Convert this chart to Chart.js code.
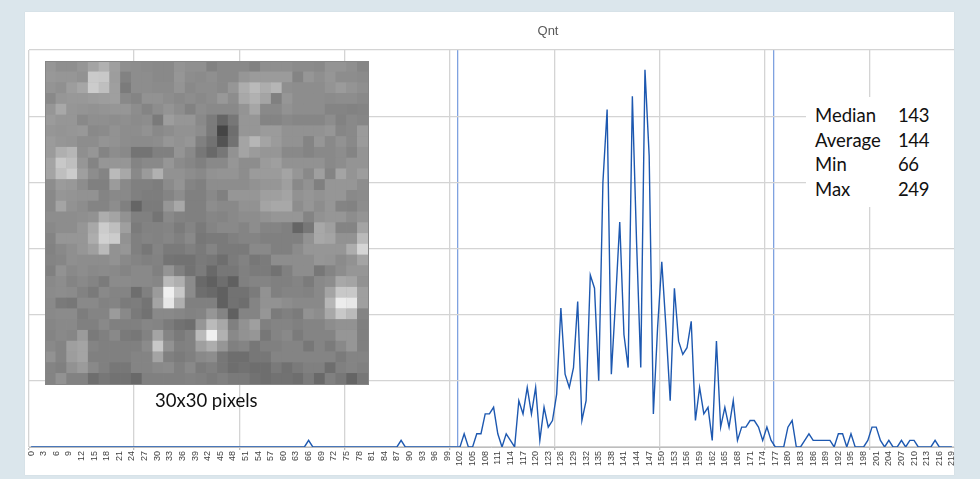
<!DOCTYPE html>
<html>
<head>
<meta charset="utf-8">
<title>Qnt</title>
<script src="https://cdn.jsdelivr.net/npm/chart.js@4"></script>
<style>
    html, body { margin: 0; padding: 0; width: 980px; height: 479px; overflow: hidden; background: #dbe6ec; }
    #panel { position: absolute; left: 25px; top: 12px; width: 929px; height: 463px; background: #fff; box-shadow: 0 0 1px #c4cdd2; }
    #histogram { position: absolute; left: 0; top: 0; }
    #inset { position: absolute; left: 45px; top: 61px; background: #8c8c8c; filter: blur(0.7px) contrast(0.88) brightness(1.02); }
    #insetBorder { position: absolute; left: 45px; top: 61px; width: 322px; height: 322px; border: 1px solid #868686; }
    .txt { position: absolute; font-family: Lato, "Open Sans", sans-serif; color: #111; font-size: 18.5px; line-height: 24.5px; white-space: nowrap; }
    #title { position: absolute; left: 498px; width: 100px; top: 23px; text-align: center; font: 13px "Liberation Sans", sans-serif; color: #595959; }
    #statsBox { position: absolute; left: 806px; top: 97px; width: 148px; height: 110px; background: #fff; }
</style>
</head>
<body>
<div id="panel"></div>
<canvas id="histogram" width="980" height="479"></canvas>
<div id="title">Qnt</div>
<canvas id="inset" width="323" height="323"></canvas>
<div id="insetBorder"></div>
<div class="txt" style="left:155px;top:388px">30x30 pixels</div>
<div id="statsBox"></div>

<script>
// Histogram of grey levels, one count per level from 0 to 219
const counts = [
    0,0,0,0,0,0,0,0,0,0, 0,0,0,0,0,0,0,0,0,0,
    0,0,0,0,0,0,0,0,0,0, 0,0,0,0,0,0,0,0,0,0,
    0,0,0,0,0,0,0,0,0,0, 0,0,0,0,0,0,0,0,0,0,
    0,0,0,0,0,0,1,0,0,0, 0,0,0,0,0,0,0,0,0,0,
    0,0,0,0,0,0,0,0,1,0, 0,0,0,0,0,0,0,0,0,0,
    0,0,0,2,0,0,2,2,5,5, 6,2,0,2,1,0,7,5,9,5,
    9,1,6,3,4,8,21,11,9,12, 22,4,7,26,24,10,40,51,11,22,
    34,17,12,53,31,12,57,44,5,18, 28,18,7,24,16,14,15,19,4,9,
    5,6,1,16,3,6,3,7,1,3, 3,4,4,3,1,3,1,0,0,0,
    3,4,0,0,1,2,1,1,1,1, 1,0,2,2,0,2,0,0,0,1,
    3,3,1,0,1,0,0,1,0,1, 1,0,0,0,0,1,0,0,0,0
];
const levels = counts.map((c, i) => String(i));

// Levels where the two blue marker lines sit
const markerLevels = [102, 177];

// Stats shown on the right
const statNames = ['Median', 'Average', 'Min', 'Max'];
const statValues = ['143', '144', '66', '249'];

// The 30x30 sample, grey value per cell, read row by row
const insetRows = [
    [150,142,142,150,165,180,160,142,140,137,135,135,148,143,143, 128,135,135,135,128,142,142,142,138,138,135,148,148,142,132],
    [152,150,150,145,208,205,158,128,140,140,135,135,150,140,138, 142,135,135,150,155,155,155,155,130,150,142,150,140,140,138],
    [147,143,158,168,210,195,160,120,140,140,138,138,148,135,140, 140,135,150,175,190,175,185,142,140,140,140,148,155,148,142],
    [135,150,152,152,155,158,160,135,130,145,145,140,135,140,135, 140,152,140,170,180,165,125,150,140,140,140,138,140,140,135],
    [150,170,150,148,145,148,150,150,140,130,140,148,140,128,140, 135,135,135,148,168,135,135,145,140,140,140,130,130,128,130],
    [155,150,150,135,142,142,140,142,138,140,118,158,150,150,135, 120,95,115,150,150,130,130,135,132,132,132,140,128,135,132],
    [150,148,150,152,135,138,145,140,140,145,135,140,145,145,140, 118,60,105,150,150,155,155,145,145,145,145,150,132,135,155],
    [155,150,148,140,140,148,145,140,138,138,140,150,145,150,125, 110,75,110,165,185,165,155,145,145,130,150,135,145,135,155],
    [155,178,185,142,150,130,140,135,112,112,125,125,148,135,115, 100,115,145,165,155,150,150,135,135,130,135,135,140,130,148],
    [165,205,195,150,130,150,150,150,130,135,135,150,138,132,125, 135,135,150,140,140,155,160,145,145,145,145,135,140,148,148],
    [165,195,210,160,140,130,190,170,135,155,180,145,145,140,135, 145,148,148,140,155,155,155,165,150,135,160,130,165,148,158],
    [140,155,152,140,125,125,155,135,125,125,122,138,148,130,125, 140,140,140,140,145,150,150,160,135,145,125,150,150,150,140],
    [135,150,148,145,145,130,135,135,125,122,122,130,140,125,125, 135,125,150,150,150,160,160,165,145,150,145,150,150,135,138],
    [135,165,145,140,130,130,140,125,95,120,120,150,170,125,125, 140,135,135,145,145,165,170,170,140,150,140,150,130,128,140],
    [140,140,140,142,145,175,165,145,125,125,112,135,128,125,125, 132,130,135,140,140,145,150,150,150,130,145,150,150,140,148],
    [135,140,140,150,170,210,195,160,120,128,128,130,120,130,118, 130,135,135,130,140,130,130,125,95,115,170,160,130,130,165],
    [130,150,150,150,175,215,210,145,125,130,128,132,125,135,115, 118,118,125,130,130,125,125,125,125,145,170,165,145,145,190],
    [128,135,142,150,160,190,145,150,125,115,130,118,118,125,118, 130,118,118,118,135,135,125,125,138,150,150,150,150,175,220],
    [130,132,142,140,140,140,145,135,130,125,128,112,110,110,118, 115,105,120,128,115,120,140,140,140,140,150,148,138,145,165],
    [125,145,135,140,135,138,135,130,135,135,125,148,125,110,120, 100,115,115,125,120,120,110,125,140,140,115,130,140,150,150],
    [135,140,130,135,130,120,138,138,135,135,132,190,178,138,100, 90,105,90,125,130,130,125,125,130,120,135,140,170,165,145],
    [138,140,138,128,118,135,130,130,105,125,155,250,205,138,105, 100,90,110,110,120,145,125,130,130,128,135,165,205,205,160],
    [135,118,115,135,135,128,130,120,122,112,165,240,178,125,125, 125,90,110,105,130,145,145,140,135,135,135,185,245,240,160],
    [135,138,138,122,130,130,155,135,118,110,135,135,132,128,130, 150,130,90,130,130,150,120,125,120,145,140,170,205,190,130],
    [132,135,135,125,125,135,125,125,125,132,130,120,110,105,150, 190,170,125,145,160,125,130,130,125,130,130,140,145,145,125],
    [130,135,132,155,118,125,135,118,115,128,165,130,118,128,190, 250,180,135,145,150,115,130,135,120,130,130,130,150,150,125],
    [135,130,160,165,130,125,125,125,125,138,205,145,125,128,160, 175,150,125,130,115,125,125,130,130,115,130,120,135,150,125],
    [145,130,158,165,125,125,125,125,130,130,165,125,120,125,135, 140,115,105,105,115,115,130,130,130,130,130,130,120,130,130],
    [130,125,145,155,135,125,115,115,130,130,135,138,125,135,120, 125,115,105,110,105,105,118,108,118,125,125,105,125,130,125],
    [130,145,128,128,105,115,110,110,100,125,125,125,125,128,125, 120,125,118,118,110,105,110,110,105,120,100,125,115,95,115]
];

const gridGrey = '#d4d4d4';
const markerBlue = '#7fa2e0';

// Every 25th level gets a grid line, the two markers get the blue colour
function lineColor(ctx) {
    if (ctx.index === undefined) return 'transparent';
    if (markerLevels.includes(ctx.index)) return markerBlue;
    return ctx.index % 25 === 0 ? gridGrey : 'transparent';
}

function tickColor(ctx) {
    if (ctx.index === undefined) return 'transparent';
    return ctx.index % 25 === 0 ? '#bdbdbd' : 'transparent';
}

new Chart(document.getElementById('histogram').getContext('2d'), {
    type: 'line',
    data: {
        labels: levels,
        datasets: [{
            label: 'Qnt',
            data: counts,
            borderColor: '#1d58b0',
            borderWidth: 1.4,
            pointRadius: 0,
            tension: 0
        }]
    },
    options: {
        responsive: false,
        animation: false,
        layout: { autoPadding: false, padding: { left: 29, right: 26, top: 50, bottom: 0 } },
        plugins: { legend: { display: false }, title: { display: false }, tooltip: { enabled: false } },
        scales: {
            x: {
                type: 'category',
                offset: true,
                afterFit: scale => { scale.height = 32; },
                grid: { offset: true, color: lineColor, tickColor: tickColor, tickLength: 3, lineWidth: 1.3 },
                border: { color: '#bdbdbd' },
                ticks: {
                    autoSkip: false,
                    minRotation: 90,
                    maxRotation: 90,
                    padding: 1,
                    color: '#404040',
                    font: { family: '"Liberation Sans", sans-serif', size: 9 },
                    callback: function (value, index) {
                        return index % 3 === 0 ? this.getLabelForValue(value) : '';
                    }
                }
            },
            y: {
                min: 0,
                max: 60,
                afterFit: scale => { scale.width = 0; },
                ticks: { stepSize: 10, display: false },
                grid: { color: gridGrey, lineWidth: 1.3, drawTicks: false },
                border: { display: false }
            }
        }
    }
});

// Sample image drawn as square points on its own 30x30 axes
const cellPoints = [];
const cellColors = [];
insetRows.forEach((row, r) => {
    row.forEach((grey, c) => {
        cellPoints.push({ x: c + 0.5, y: r + 0.5 });
        cellColors.push(`rgb(${grey},${grey},${grey})`);
    });
});

new Chart(document.getElementById('inset').getContext('2d'), {
    type: 'scatter',
    data: {
        datasets: [{
            data: cellPoints,
            pointStyle: 'rect',
            pointRadius: 7.9,
            pointBorderWidth: 0,
            pointBackgroundColor: cellColors
        }]
    },
    options: {
        responsive: false,
        animation: false,
        layout: { autoPadding: false },
        plugins: { legend: { display: false }, tooltip: { enabled: false } },
        scales: {
            x: { type: 'linear', min: 0, max: 30, display: false },
            y: { type: 'linear', min: 0, max: 30, reverse: true, display: false }
        }
    }
});

// Stats block on the right
const statsBox = document.getElementById('statsBox');
statNames.forEach((name, i) => {
    const label = document.createElement('div');
    label.className = 'txt';
    label.style.cssText = `left:9px;top:${6 + i * 24.5}px`;
    label.textContent = name;
    const val = document.createElement('div');
    val.className = 'txt';
    val.style.cssText = `left:92px;top:${6 + i * 24.5}px;letter-spacing:-0.4px`;
    val.textContent = statValues[i];
    statsBox.appendChild(label);
    statsBox.appendChild(val);
});
</script>
</body>
</html>
